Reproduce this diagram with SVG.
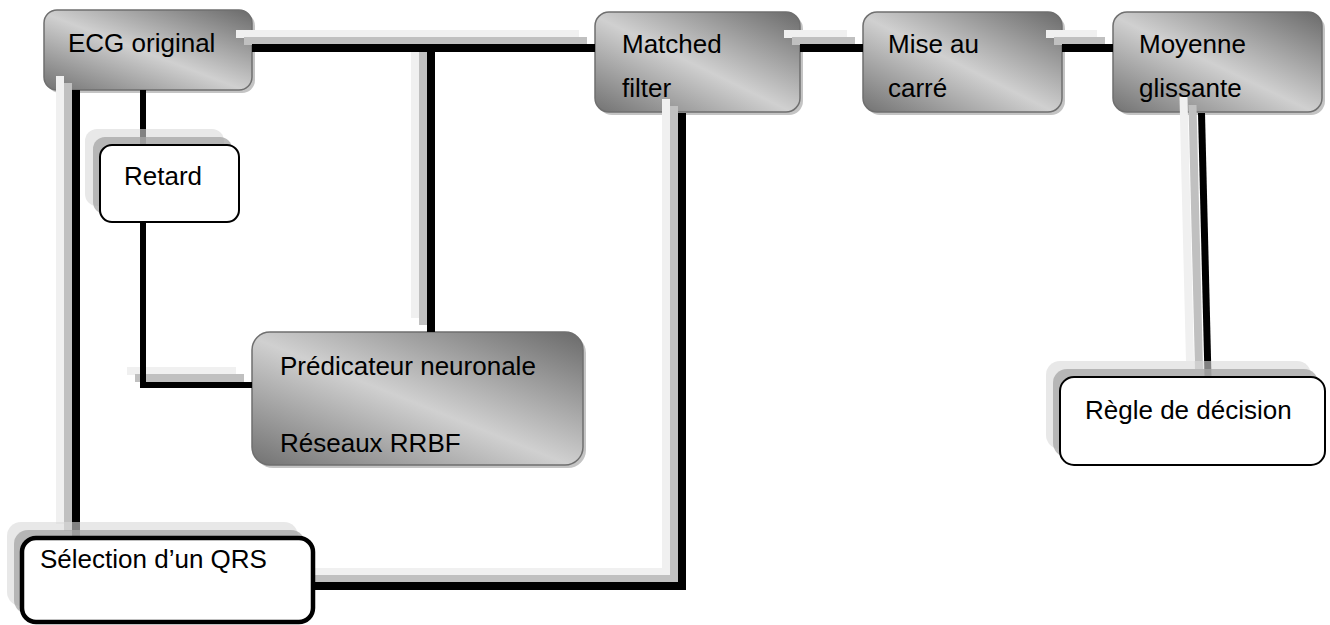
<svg xmlns="http://www.w3.org/2000/svg" xmlns:xlink="http://www.w3.org/1999/xlink" width="1330" height="625" viewBox="0 0 1330 625">
  <style>
    .lbl { font-family: "Liberation Sans", Arial, sans-serif; font-size: 26px; fill: #000; }
    .shaded { fill: url(#shade); stroke: #6f6f6f; stroke-width: 1.5; }
    .drop { fill: #c4c4c4; }
    .plain { fill: #fff; stroke: #000; stroke-width: 2; }
    .plain-thick { fill: #fff; stroke: #000; stroke-width: 4.5; }
    .sh-grey { fill: #a6a6a6; opacity: 0.75; }
    .sh-light { fill: #d9d9d9; opacity: 0.6; }
    .wire { fill: none; stroke: #000; stroke-width: 8; stroke-linejoin: miter; stroke-linecap: butt; }
    .wire-thin { fill: none; stroke: #000; stroke-width: 6; }
    .wire-grey { fill: none; stroke: #c0c0c0; stroke-width: 8; }
    .wire-light { fill: none; stroke: #f0f0f0; stroke-width: 8; }
  </style>
  <defs>
    <linearGradient id="shade" x1="1" y1="0" x2="0" y2="1">
      <stop offset="0" stop-color="#6a6a6a"/>
      <stop offset="0.52" stop-color="#d0d0d0"/>
      <stop offset="1" stop-color="#727272"/>
    </linearGradient>
    <!-- connector geometry, reused for the offset grey bands -->
    <path id="w-a" d="M252,48 H595"/>
    <path id="w-b" d="M431,48 V332"/>
    <path id="w-c" d="M800,48 H863"/>
    <path id="w-d" d="M1062,48 H1113"/>
    <path id="w-e" d="M1201.5,113 L1208,377"/>
    <path id="w-f" d="M76,90 V538"/>
    <path id="w-h2" d="M143,385 H252"/>
    <path id="w-i" d="M682,113 V586 H313"/>
  </defs>

  <rect width="1330" height="625" fill="#fff"/>

  <!-- shaded process blocks -->
  <g id="ecg-original">
    <rect class="drop" x="47" y="13" width="208" height="80" rx="13"/>
    <rect class="shaded" x="44" y="10" width="208" height="80" rx="13"/>
    <text class="lbl" x="68" y="52">ECG original</text>
  </g>
  <g id="matched-filter">
    <rect class="drop" x="598" y="15" width="205" height="100" rx="14"/>
    <rect class="shaded" x="595" y="12" width="205" height="100" rx="14"/>
    <text class="lbl" x="622" y="53">Matched</text>
    <text class="lbl" x="622" y="97">filter</text>
  </g>
  <g id="mise-au-carre">
    <rect class="drop" x="866" y="15" width="199" height="100" rx="14"/>
    <rect class="shaded" x="863" y="12" width="199" height="100" rx="14"/>
    <text class="lbl" x="888" y="53">Mise au</text>
    <text class="lbl" x="888" y="97">carré</text>
  </g>
  <g id="moyenne-glissante">
    <rect class="drop" x="1116" y="15" width="209" height="100" rx="14"/>
    <rect class="shaded" x="1113" y="12" width="209" height="100" rx="14"/>
    <text class="lbl" x="1139" y="53">Moyenne</text>
    <text class="lbl" x="1139" y="97">glissante</text>
  </g>
  <g id="predicateur">
    <rect class="drop" x="255" y="335" width="331" height="133" rx="18"/>
    <rect class="shaded" x="252" y="332" width="331" height="133" rx="18"/>
    <text class="lbl" x="280" y="375">Prédicateur neuronale</text>
    <text class="lbl" x="280" y="452">Réseaux RRBF</text>
  </g>

  <!-- connectors: light band, grey band, then the black wire -->
  <g id="connectors">
    <g transform="translate(-16,-14)" class="wire-light">
      <use xlink:href="#w-a"/><use xlink:href="#w-b"/><use xlink:href="#w-c"/>
      <use xlink:href="#w-d"/><use xlink:href="#w-f"/><use xlink:href="#w-i"/>
      <use xlink:href="#w-h2"/>
    </g>
    <g transform="translate(-18,-16)" class="wire-light">
      <use xlink:href="#w-e"/>
    </g>
    <g transform="translate(-8,-7)" class="wire-grey">
      <use xlink:href="#w-a"/><use xlink:href="#w-b"/><use xlink:href="#w-c"/>
      <use xlink:href="#w-d"/><use xlink:href="#w-f"/><use xlink:href="#w-i"/>
      <use xlink:href="#w-h2"/>
    </g>
    <g transform="translate(-9,-8)" class="wire-grey">
      <use xlink:href="#w-e"/>
    </g>
    <g class="wire">
      <use xlink:href="#w-a"/><use xlink:href="#w-b"/><use xlink:href="#w-c"/>
      <use xlink:href="#w-d"/><use xlink:href="#w-f"/><use xlink:href="#w-i"/>
      <use xlink:href="#w-e" style="stroke-width:7"/>
    </g>
    <path class="wire-thin" d="M143,90 V145"/>
    <path class="wire-thin" d="M143,222 V385 H252"/>
  </g>

  <!-- plain blocks with offset shadows -->
  <g id="retard">
    <rect class="sh-light" x="85" y="129" width="139" height="77" rx="12"/>
    <rect class="sh-grey" x="93" y="137" width="139" height="77" rx="12"/>
    <rect class="plain" x="100" y="145" width="139" height="77" rx="12"/>
    <text class="lbl" x="124" y="185">Retard</text>
  </g>
  <g id="regle-de-decision">
    <rect class="sh-light" x="1046" y="361" width="265" height="88" rx="14"/>
    <rect class="sh-grey" x="1053" y="369" width="265" height="88" rx="14"/>
    <rect class="plain" x="1060" y="377" width="265" height="88" rx="14"/>
    <text class="lbl" x="1085" y="419">Règle de décision</text>
  </g>
  <g id="selection-qrs">
    <rect class="sh-light" x="7" y="522" width="291" height="84" rx="14"/>
    <rect class="sh-grey" x="14" y="530" width="291" height="84" rx="14"/>
    <rect class="plain-thick" x="22" y="538" width="291" height="84" rx="14"/>
    <text class="lbl" x="40" y="568">Sélection d’un QRS</text>
  </g>
</svg>
